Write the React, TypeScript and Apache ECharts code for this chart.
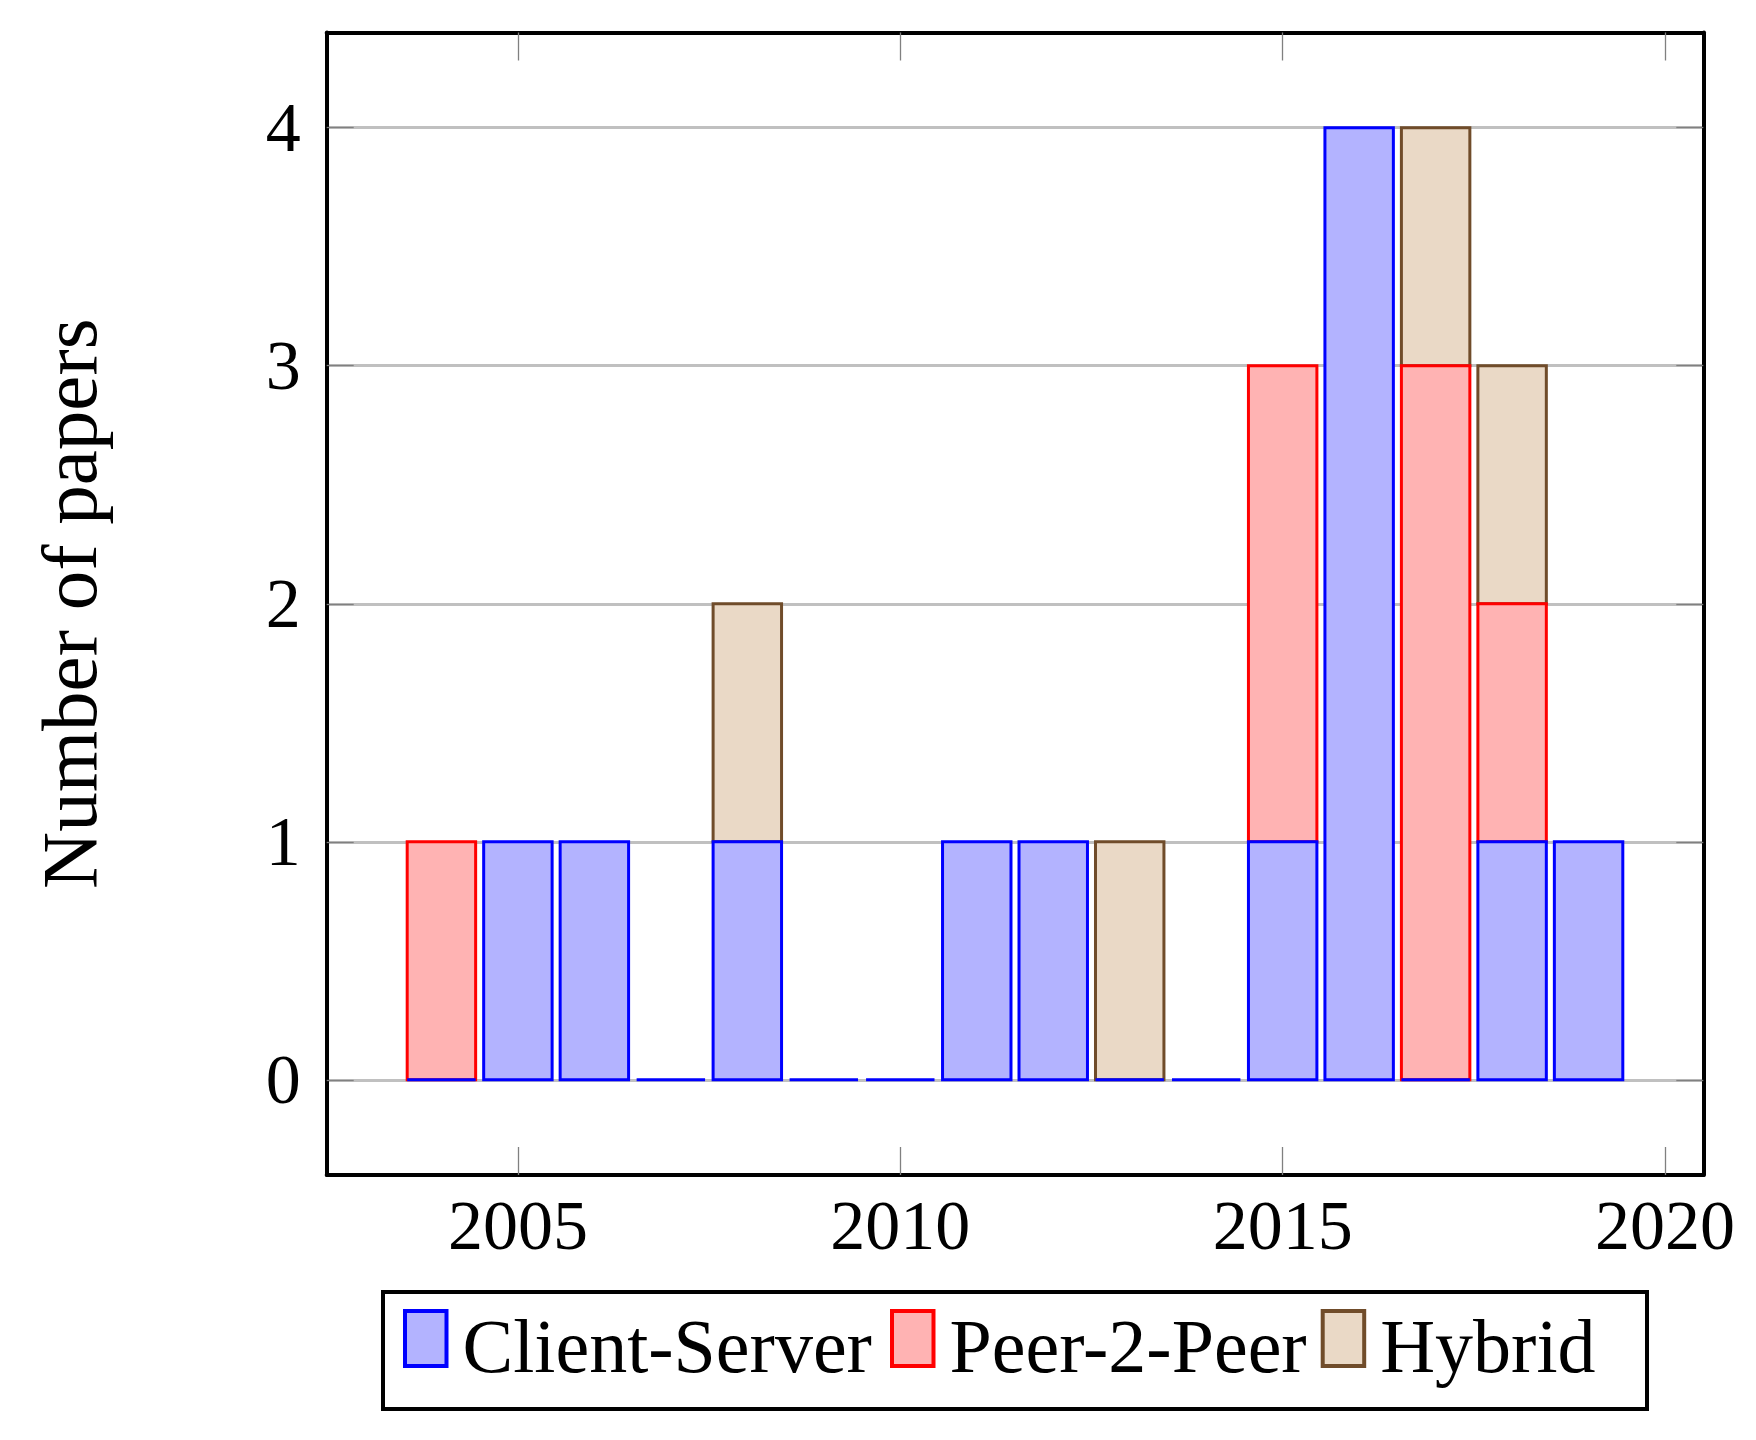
import React, { useEffect, useRef } from "react";
import * as echarts from "echarts";

// ---- data ----
const axisYears = ["2003", "2004", "2005", "2006", "2007", "2008", "2009", "2010", "2011", "2012", "2013", "2014", "2015", "2016", "2017", "2018", "2019", "2020"];
const years = [2004, 2005, 2006, 2007, 2008, 2009, 2010, 2011, 2012, 2013, 2014, 2015, 2016, 2017, 2018, 2019];
const clientServer = [0, 1, 1, 0, 1, 0, 0, 1, 1, 0, 0, 1, 4, 0, 1, 1];
const peer2Peer = [1, null, null, null, null, null, null, null, null, null, null, 2, null, 3, 1, null];
const hybrid = [null, null, null, null, 1, null, null, null, null, 1, null, null, null, 1, 1, null];
const seriesNames = ["Client-Server", "Peer-2-Peer", "Hybrid"];
const xTickValues = ["2005", "2010", "2015", "2020"];
const yTickValues = [0, 1, 2, 3, 4];
const yAxisTitle = "Number of papers";

const FONT = "'Liberation Serif', 'Times New Roman', serif";

export default function App() {
  const ref = useRef<HTMLDivElement>(null);

  useEffect(() => {
    const chart = echarts.init(ref.current as HTMLDivElement, null, { renderer: "svg" });

    const gridLeft = 326.7;
    const gridTop = 32.5;
    const gridRight = 52.7;
    const gridBottom = 265;
    const yMin = -0.4;
    const yMax = 4.4;
    const barRatio = 0.895;

    const styles = [
      { fill: "#b3b3ff", stroke: "#0000ff", z: 4 },
      { fill: "#ffb3b3", stroke: "#ff0000", z: 3 },
      { fill: "#ead9c6", stroke: "#704c2a", z: 2 },
    ];
    const values = [clientServer, peer2Peer, hybrid];

    // stacked data: [year, top, base]
    const stackedData = values.map((vals, k) =>
      years
        .map((y, i) => {
          const v = vals[i];
          if (v === null) return null;
          let base = 0;
          for (let j = 0; j < k; j++) base += values[j][i] ?? 0;
          return [String(y), base + v, base];
        })
        .filter((d) => d !== null)
    );

    const series = seriesNames.map((name, k) => ({
      type: "custom",
      name,
      xAxisIndex: 0,
      yAxisIndex: 0,
      z: styles[k].z,
      silent: true,
      encode: { x: 0, y: [1, 2] },
      data: stackedData[k],
      itemStyle: { color: styles[k].fill, borderColor: styles[k].stroke, borderWidth: 3 },
      renderItem: (_params: any, api: any) => {
        const cat = api.value(0);
        const top = api.value(1);
        const base = api.value(2);
        const p0 = api.coord([cat, base]);
        const p1 = api.coord([cat, top]);
        const bw = api.size([1, 0])[0] * barRatio;
        return {
          type: "rect",
          shape: { x: p0[0] - bw / 2, y: p1[1], width: bw, height: p0[1] - p1[1] },
          style: { fill: styles[k].fill, stroke: styles[k].stroke, lineWidth: 3 },
        };
      },
    }));

    const axisLine = { show: true, onZero: false, lineStyle: { color: "#000", width: 4 } };
    const tickStyle = { color: "#808080", width: 1.3 };
    const isTick = (_i: number, v: string) => xTickValues.indexOf(String(v)) >= 0;

    const legendLefts = [403, 890, 1320.7];
    const legends = seriesNames.map((name, k) => ({
      data: [name],
      left: legendLefts[k],
      top: 1307.5,
      orient: "horizontal",
      padding: 0,
      icon: "rect",
      itemWidth: 41.5,
      itemHeight: 55,
      selectedMode: false,
      itemStyle: { color: styles[k].fill, borderColor: styles[k].stroke, borderWidth: 4 },
      formatter: "{t|{name}}",
      textStyle: {
        fontFamily: FONT,
        fontSize: 76,
        color: "#000",
        rich: {
          t: { fontFamily: FONT, fontSize: 76, color: "#000", padding: [14, 0, 0, 11] },
        },
      },
    }));

    const xAxisBase = {
      type: "category",
      data: axisYears,
      boundaryGap: true,
      axisLine,
      axisTick: { show: true, inside: true, length: 28, alignWithLabel: true, interval: isTick, lineStyle: tickStyle },
      splitLine: { show: false },
    };

    const option = {
      animation: false,
      backgroundColor: "#fff",
      grid: { left: gridLeft, top: gridTop, right: gridRight, bottom: gridBottom, containLabel: false },
      xAxis: [
        {
          ...xAxisBase,
          position: "bottom",
          axisLabel: {
            show: true,
            interval: isTick,
            margin: 15,
            fontSize: 70,
            fontFamily: FONT,
            color: "#000",
          },
        },
        {
          ...xAxisBase,
          position: "top",
          axisLabel: { show: false, interval: isTick },
        },
      ],
      yAxis: [
        {
          type: "value",
          min: yMin,
          max: yMax,
          position: "left",
          axisLine,
          axisTick: { show: true, inside: true, length: 27, customValues: yTickValues, lineStyle: tickStyle },
          axisLabel: {
            show: true,
            customValues: yTickValues,
            margin: 26,
            fontSize: 70,
            fontFamily: FONT,
            color: "#000",
          },
          splitLine: { show: true, lineStyle: { color: "#c0c0c0", width: 3 } },
          name: yAxisTitle,
          nameLocation: "middle",
          nameGap: 218,
          nameRotate: 90,
          nameTextStyle: { fontFamily: FONT, fontSize: 79, color: "#000" },
        },
        {
          type: "value",
          min: yMin,
          max: yMax,
          position: "right",
          axisLine,
          axisTick: { show: true, inside: true, length: 27, customValues: yTickValues, lineStyle: tickStyle },
          axisLabel: { show: false },
          splitLine: { show: false },
        },
      ],
      legend: legends,
      graphic: [
        {
          type: "rect",
          shape: { x: 383, y: 1292, width: 1264, height: 117 },
          style: { fill: "none", stroke: "#000", lineWidth: 4 },
          silent: true,
        },
      ],
      series,
    };

    chart.setOption(option as any);
    return () => chart.dispose();
  }, []);

  return (
    <div
      ref={ref}
      style={{ position: "absolute", left: 0, top: 0, width: 1756, height: 1440, background: "#fff" }}
    />
  );
}
